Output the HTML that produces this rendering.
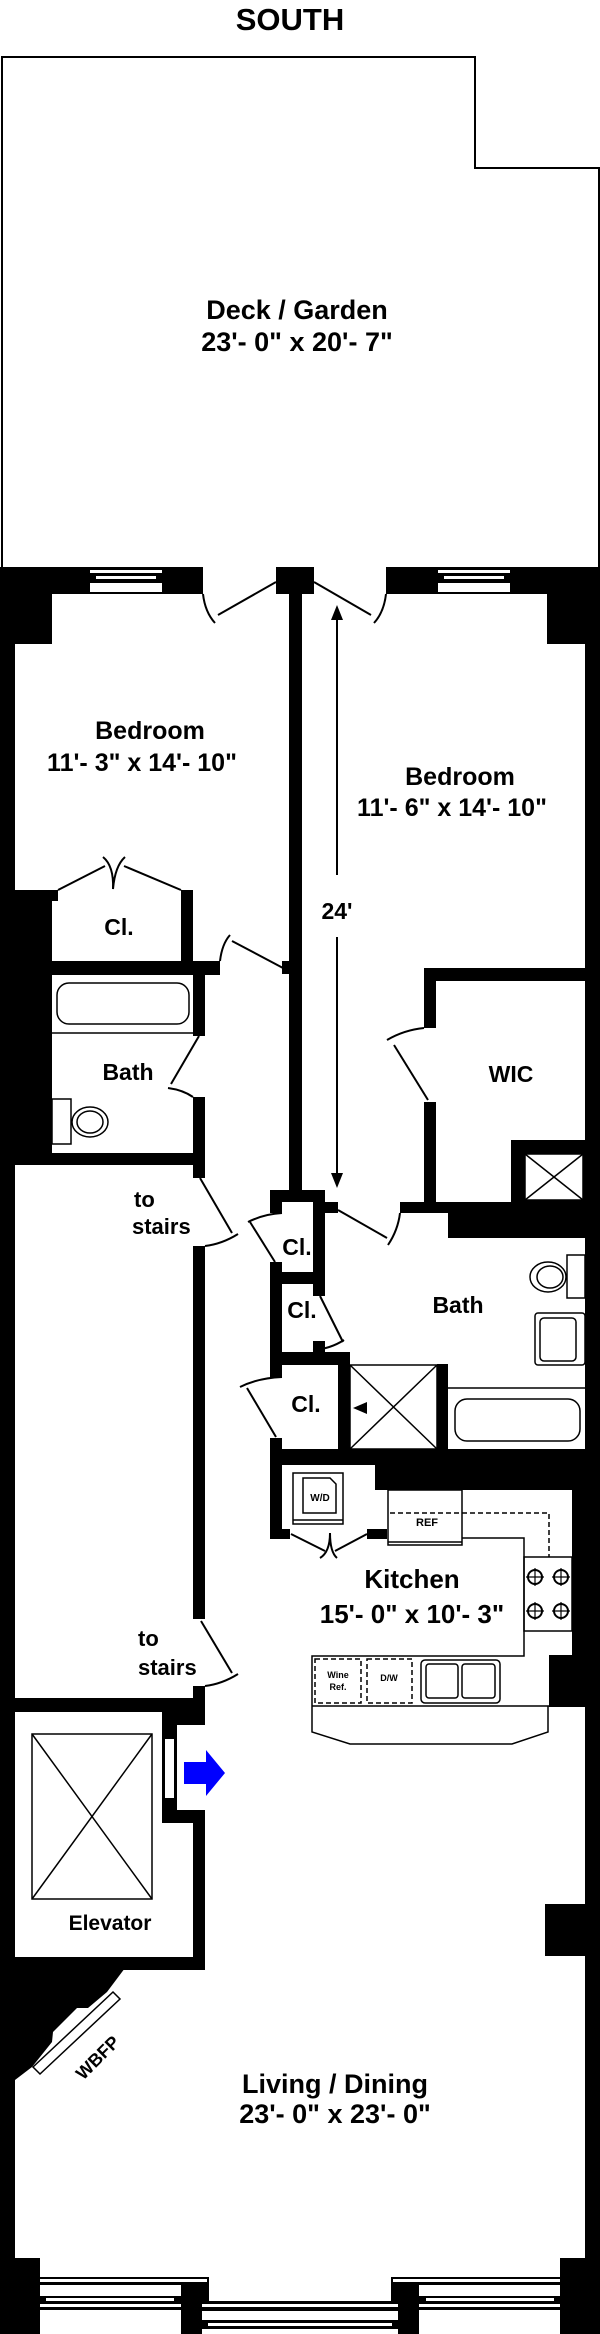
<!DOCTYPE html>
<html><head><meta charset="utf-8"><style>
html,body{margin:0;padding:0;background:#fff;}
svg{display:block;}
text{font-family:"Liberation Sans",Arial,sans-serif;font-weight:bold;fill:#000;}
</style></head><body>
<svg width="600" height="2334" viewBox="0 0 600 2334" xmlns="http://www.w3.org/2000/svg">
<rect width="600" height="2334" fill="#fff"/>
<text x="290" y="30" font-size="31" text-anchor="middle">SOUTH</text>
<polyline points="2,567 2,57 475,57 475,168 599,168 599,567" fill="none" stroke="#000" stroke-width="2"/>
<text x="297" y="319" font-size="27" text-anchor="middle">Deck / Garden</text>
<text x="297" y="351" font-size="27" text-anchor="middle">23'- 0" x 20'- 7"</text>

<g fill="#000">
<rect x="0" y="567" width="203" height="27"/>
<rect x="386" y="567" width="214" height="27"/>
<rect x="0" y="567" width="52" height="77"/>
<rect x="547" y="567" width="53" height="77"/>
<rect x="276" y="567" width="38" height="27"/>
<rect x="0" y="567" width="15" height="1767"/>
<rect x="585" y="567" width="15" height="1767"/>
<rect x="289" y="594" width="13" height="600"/>
<rect x="0" y="890" width="52" height="275"/>
<rect x="52" y="890" width="6" height="11"/>
<rect x="181" y="890" width="12" height="71"/>
<rect x="52" y="961" width="168" height="14"/>
<rect x="282" y="961" width="8" height="13"/>
<rect x="193" y="975" width="12" height="61"/>
<rect x="193" y="1097" width="12" height="81"/>
<rect x="0" y="1153" width="205" height="12"/>
<rect x="193" y="1246" width="12" height="373"/>
<rect x="193" y="1686" width="12" height="26"/>
<rect x="424" y="968" width="161" height="13"/>
<rect x="424" y="968" width="12" height="60"/>
<rect x="424" y="1102" width="12" height="111"/>
<rect x="511" y="1140" width="74" height="62"/>
<rect x="270" y="1190" width="55" height="12"/>
<rect x="270" y="1190" width="12" height="23"/>
<rect x="313" y="1190" width="12" height="106"/>
<rect x="325" y="1202" width="13" height="11"/>
<rect x="400" y="1202" width="185" height="11"/>
<rect x="448" y="1202" width="137" height="36"/>
<rect x="270" y="1262" width="12" height="116"/>
<rect x="270" y="1272" width="55" height="12"/>
<rect x="313" y="1341" width="12" height="11"/>
<rect x="270" y="1352" width="80" height="13"/>
<rect x="338" y="1352" width="12" height="97"/>
<rect x="437" y="1364" width="11" height="85"/>
<rect x="270" y="1438" width="12" height="101"/>
<rect x="270" y="1449" width="330" height="16"/>
<rect x="375" y="1449" width="225" height="41"/>
<rect x="270" y="1529" width="20" height="10"/>
<rect x="367" y="1529" width="20" height="10"/>
<rect x="572" y="1449" width="28" height="206"/>
<rect x="549" y="1655" width="51" height="52"/>
<rect x="545" y="1904" width="40" height="52"/>
<rect x="0" y="1698" width="205" height="14"/>
<rect x="162" y="1698" width="43" height="27"/>
<rect x="162" y="1698" width="15" height="125"/>
<rect x="162" y="1810" width="43" height="13"/>
<rect x="193" y="1810" width="12" height="160"/>
<rect x="0" y="1957" width="205" height="13"/>
<polygon points="15,1968 125,1968 107,1992 88,2008 77,2008 53,2032 52,2042 32,2067 15,2080"/>
<rect x="0" y="2258" width="40" height="76"/>
<rect x="560" y="2258" width="40" height="76"/>
<rect x="40" y="2277" width="520" height="57"/>
</g>
<g fill="#fff">
<rect x="90" y="570" width="72" height="3"/><rect x="96" y="576" width="60" height="3"/><rect x="90" y="583" width="72" height="9"/>
<rect x="438" y="570" width="72" height="3"/><rect x="444" y="576" width="60" height="3"/><rect x="438" y="583" width="72" height="9"/>
<rect x="165" y="1739" width="9" height="59"/>
<rect x="177" y="1725" width="16" height="85"/>
<rect x="525" y="1154" width="58" height="46"/>
<rect x="208" y="2277" width="184" height="25"/>
<rect x="40" y="2279" width="168" height="3"/><rect x="392" y="2279" width="168" height="3"/>
<rect x="40" y="2285" width="141" height="11"/><rect x="46" y="2298" width="128" height="3"/><rect x="40" y="2304" width="141" height="3"/><rect x="40" y="2310" width="141" height="24"/>
<rect x="419" y="2285" width="141" height="11"/><rect x="426" y="2298" width="128" height="3"/><rect x="419" y="2304" width="141" height="3"/><rect x="419" y="2310" width="141" height="24"/>
<rect x="202" y="2304" width="196" height="3"/><rect x="202" y="2311" width="196" height="9"/><rect x="208" y="2323" width="184" height="3"/><rect x="202" y="2329" width="196" height="5"/>
</g>
<g fill="none" stroke="#000" stroke-width="2">
<polyline points="208,2277 208,2302 392,2302 392,2277"/>
<path d="M203,594 Q205,612 215,623"/><line x1="218" y1="615" x2="276" y2="582"/>
<path d="M386,594 Q384,612 374,623"/><line x1="371" y1="615" x2="314" y2="582"/>
<polyline points="58,890 105,866"/><polyline points="181,890 124,866"/>
<path d="M103,857 Q114,866 113,889 Q115,866 125,857"/>
<path d="M220,961 Q222,944 230,935"/><line x1="232" y1="941" x2="283" y2="968"/>
<line x1="199" y1="1036" x2="171" y2="1084"/><path d="M168,1088 Q183,1090 193,1097"/>
<path d="M387,1040 Q404,1030 424,1028"/><line x1="394" y1="1045" x2="428" y2="1100"/>
<line x1="200" y1="1178" x2="232" y2="1233"/><path d="M238,1234 Q222,1244 205,1246"/>
<line x1="201" y1="1621" x2="232" y2="1673"/><path d="M238,1674 Q222,1684 205,1686"/>
<line x1="250" y1="1222" x2="275" y2="1262"/><path d="M248,1222 Q264,1214 282,1213"/>
<line x1="338" y1="1210" x2="387" y2="1238"/><path d="M388,1245 Q398,1230 400,1213"/>
<line x1="320" y1="1296" x2="343" y2="1342"/><path d="M344,1340 Q330,1349 313,1350"/>
<line x1="247" y1="1388" x2="276" y2="1437"/><path d="M240,1387 Q258,1378 282,1377"/>
<polyline points="291,1534 325,1551"/><polyline points="367,1534 335,1551"/>
<path d="M320,1558 Q330,1552 330,1533 Q330,1552 337,1558"/>
</g>
<g fill="none" stroke="#000" stroke-width="1.5">
<rect x="57" y="983" width="132" height="41" rx="12"/>
<line x1="52" y1="1033" x2="193" y2="1033"/>
<rect x="52" y="1099" width="19" height="45"/>
<ellipse cx="90" cy="1122" rx="18" ry="15"/><ellipse cx="90" cy="1122" rx="13" ry="11"/>
<rect x="525" y="1154" width="58" height="46"/><line x1="525" y1="1154" x2="583" y2="1200"/><line x1="583" y1="1154" x2="525" y2="1200"/>
<rect x="567" y="1255" width="18" height="43"/>
<ellipse cx="548" cy="1277" rx="18" ry="15"/><ellipse cx="550" cy="1277" rx="13" ry="11"/>
<rect x="535" y="1313" width="50" height="52" rx="3"/><rect x="540" y="1318" width="36" height="43" rx="4"/>
<line x1="448" y1="1388" x2="585" y2="1388"/>
<rect x="455" y="1399" width="125" height="42" rx="12"/>
<rect x="350" y="1365" width="87" height="84"/><line x1="350" y1="1365" x2="437" y2="1449"/><line x1="437" y1="1365" x2="350" y2="1449"/>
<rect x="32" y="1734" width="120" height="165"/><line x1="32" y1="1734" x2="152" y2="1899"/><line x1="152" y1="1734" x2="32" y2="1899"/>
<rect x="293" y="1473" width="50" height="51"/><line x1="293" y1="1520" x2="343" y2="1520"/>
<path d="M303,1478 L330,1478 L336,1484 L336,1513 L303,1513 Z"/>
<rect x="388" y="1490" width="74" height="55"/><line x1="388" y1="1542" x2="462" y2="1542"/>
<polyline points="462,1538 524,1538 524,1656 312,1656 312,1732 350,1744 512,1744 548,1732 548,1706"/>
<line x1="312" y1="1706" x2="549" y2="1706"/>
<rect x="524" y="1557" width="48" height="74"/>
<rect x="421" y="1660" width="79" height="43" rx="4"/><rect x="426" y="1664" width="32" height="34" rx="3"/><rect x="462" y="1664" width="33" height="34" rx="3"/>
<polygon points="33,2067 113,1992 120,1999 40,2074" fill="#fff"/>
</g>
<g fill="none" stroke="#000" stroke-width="1.5" stroke-dasharray="5,3">
<polyline points="390,1513 549,1513 549,1557"/>
<rect x="315" y="1659" width="46" height="44"/>
<rect x="367" y="1659" width="45" height="44"/>
</g>
<g fill="none" stroke="#000" stroke-width="2">
<circle cx="535" cy="1577" r="7"/><circle cx="561" cy="1577" r="7"/><circle cx="535" cy="1611" r="7"/><circle cx="561" cy="1611" r="7"/>
<path d="M535,1568v18M526,1577h18M561,1568v18M552,1577h18M535,1602v18M526,1611h18M561,1602v18M552,1611h18" stroke-width="1.2"/>
</g>
<line x1="337" y1="612" x2="337" y2="875" stroke="#000" stroke-width="2"/>
<line x1="337" y1="937" x2="337" y2="1180" stroke="#000" stroke-width="2"/>
<polygon points="337,605 331,620 343,620" fill="#000"/>
<polygon points="337,1188 331,1173 343,1173" fill="#000"/>
<polygon points="353,1408 367,1402 367,1414" fill="#000"/>
<polygon points="184,1762 206,1762 206,1750 225,1773 206,1796 206,1784 184,1784" fill="#0000ff"/>
<text x="150" y="739" font-size="25" text-anchor="middle">Bedroom</text>
<text x="142" y="771" font-size="25" text-anchor="middle">11'- 3" x 14'- 10"</text>
<text x="460" y="785" font-size="25" text-anchor="middle">Bedroom</text>
<text x="452" y="816" font-size="25" text-anchor="middle">11'- 6" x 14'- 10"</text>
<text x="337" y="919" font-size="23" text-anchor="middle">24'</text>
<text x="119" y="935" font-size="23" text-anchor="middle">Cl.</text>
<text x="128" y="1080" font-size="23" text-anchor="middle">Bath</text>
<text x="511" y="1082" font-size="23" text-anchor="middle">WIC</text>
<text x="134" y="1207" font-size="22">to</text>
<text x="132" y="1234" font-size="22">stairs</text>
<text x="297" y="1255" font-size="23" text-anchor="middle">Cl.</text>
<text x="302" y="1318" font-size="23" text-anchor="middle">Cl.</text>
<text x="306" y="1412" font-size="23" text-anchor="middle">Cl.</text>
<text x="458" y="1313" font-size="23" text-anchor="middle">Bath</text>
<text x="138" y="1646" font-size="22">to</text>
<text x="138" y="1675" font-size="22">stairs</text>
<text x="320" y="1501" font-size="10" text-anchor="middle">W/D</text>
<text x="427" y="1526" font-size="11" text-anchor="middle">REF</text>
<text x="338" y="1678" font-size="9" text-anchor="middle">Wine</text>
<text x="338" y="1690" font-size="9" text-anchor="middle">Ref.</text>
<text x="389" y="1681" font-size="9" text-anchor="middle">D/W</text>
<text x="412" y="1588" font-size="26" text-anchor="middle">Kitchen</text>
<text x="412" y="1623" font-size="26" text-anchor="middle">15'- 0" x 10'- 3"</text>
<text x="110" y="1930" font-size="21" text-anchor="middle">Elevator</text>
<text x="97" y="2064" font-size="18" text-anchor="middle" transform="rotate(-45 97 2057)">WBFP</text>
<text x="335" y="2093" font-size="27" text-anchor="middle">Living / Dining</text>
<text x="335" y="2123" font-size="27" text-anchor="middle">23'- 0" x 23'- 0"</text>
</svg>
</body></html>
